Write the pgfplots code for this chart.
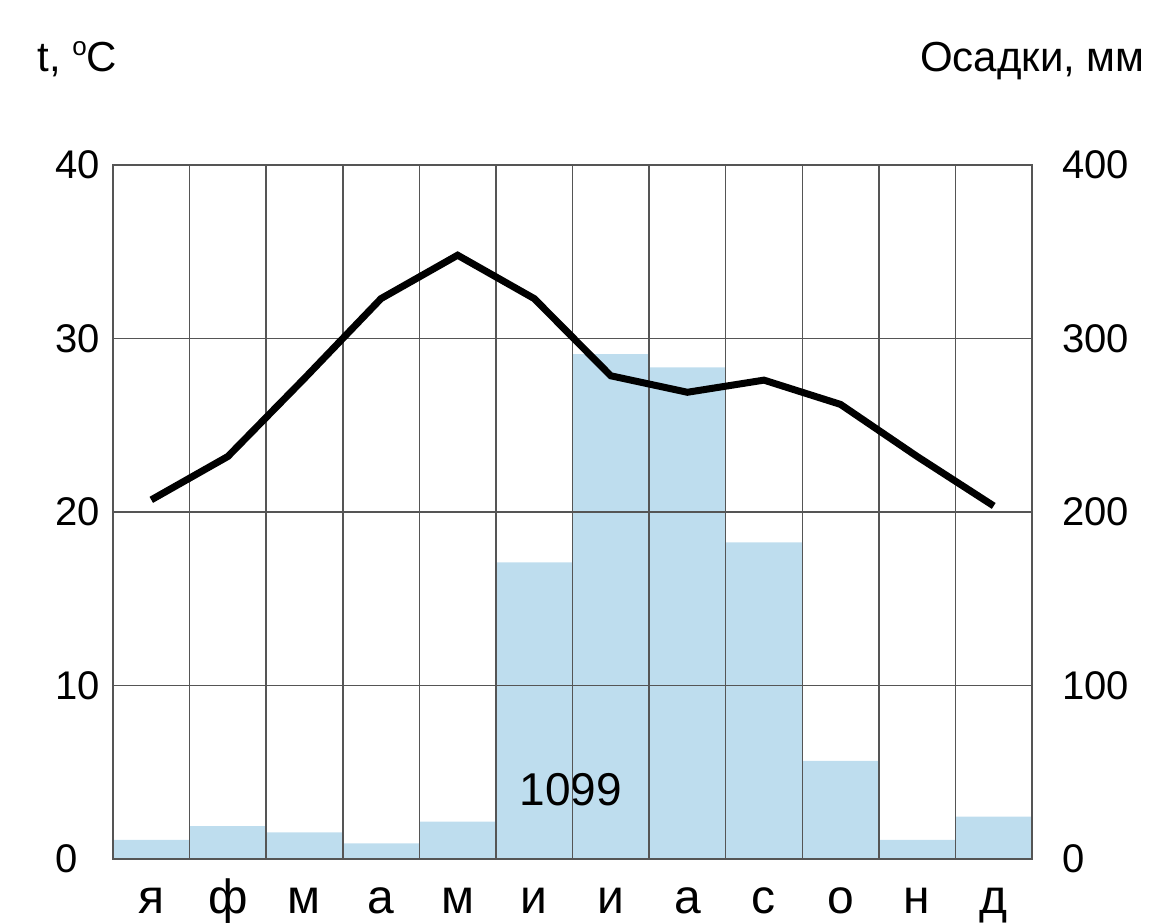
\documentclass[border=0pt]{standalone}
\usepackage{fontspec}
\setmainfont{Liberation Sans}
\usepackage{pgfplots}
\pgfplotsset{compat=1.18}
\definecolor{barblue}{RGB}{190,221,238}
\definecolor{gridgray}{RGB}{85,85,85}
\begin{document}
\begin{tikzpicture}
\begin{axis}[
  scale only axis, width=459.5pt, height=347pt,
  xmin=-0.5, xmax=11.5, ymin=0, ymax=400,
  xtick={0,...,11}, xticklabels={я,ф,м,а,м,и,и,а,с,о,н,д},
  minor xtick={0.5,1.5,...,10.5},
  xminorgrids=true, ymajorgrids=true, xmajorgrids=false,
  ytick={0,100,...,400},
  yticklabel pos=right,
  major tick length=0pt, minor tick length=0pt,
  axis on top,
  axis line style={gridgray, line width=0.75pt},
  minor grid style={gridgray, line width=0.75pt},
  major grid style={gridgray, line width=0.75pt},
  tick label style={font=\fontsize{20}{24}\selectfont, inner sep=0pt},
  xticklabel style={anchor=base, yshift=-27.5pt, font=\fontsize{24}{28}\selectfont},
  yticklabel style={anchor=west, xshift=15pt},
  /pgf/number format/assume math mode=true,
  ybar, bar width=1,
]
\addplot[fill=barblue, draw=none] coordinates {
 (0,11) (1,19) (2,15.4) (3,9) (4,21.5) (5,171) (6,291) (7,283.4) (8,182.5) (9,56.5) (10,11) (11,24.4)
};
\node[anchor=base, inner sep=0pt, font=\fontsize{23}{27}\selectfont] at (axis cs:5.48,31) {1099};
\coordinate (ll) at (rel axis cs:0,0);
\coordinate (ur) at (rel axis cs:1,1);
\coordinate (ul) at (rel axis cs:0,1);
\end{axis}
\begin{axis}[
  scale only axis, width=459.5pt, height=347pt,
  xmin=-0.5, xmax=11.5, ymin=0, ymax=40,
  xtick=\empty, ytick={0,10,...,40},
  yticklabel pos=left,
  major tick length=0pt,
  axis line style={draw=none},
  tick label style={font=\fontsize{20}{24}\selectfont, inner sep=0pt},
  yticklabel style={anchor=west, xshift=-29pt},
  /pgf/number format/assume math mode=true,
]
\addplot[black, line width=3.5pt, mark=none] coordinates {
 (0,20.7) (1,23.2) (2,27.7) (3,32.3) (4,34.8) (5,32.3) (6,27.85) (7,26.9) (8,27.6) (9,26.2) (10,23.2) (11,20.35)
};
\end{axis}
\node[anchor=base west, inner sep=0pt, font=\fontsize{21}{25}\selectfont, xshift=-38pt, yshift=46.5pt] at (ul) {t, \raisebox{0.75ex}{\fontsize{13}{15}\selectfont o}C};
\node[anchor=base east, inner sep=0pt, font=\fontsize{21}{25}\selectfont, xshift=56.5pt, yshift=46.5pt] at (ur) {Осадки, мм};
\pgfresetboundingbox
\path ([xshift=-56.5pt,yshift=-32pt]ll) rectangle ([xshift=59.5pt,yshift=82.5pt]ur);
\end{tikzpicture}
\end{document}
